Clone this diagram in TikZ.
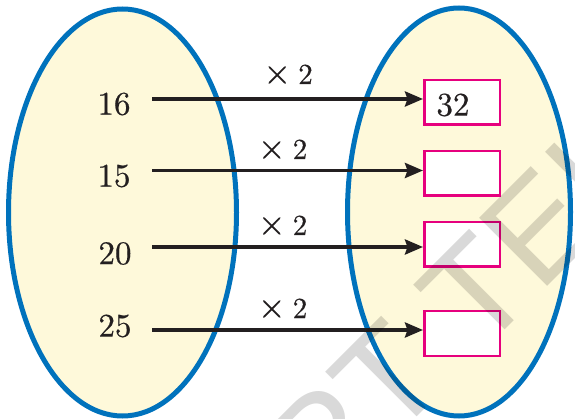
\documentclass[tikz,border=0pt]{standalone}
\usepackage{fontspec}
\newfontfamily\wmfont{Liberation Sans}
\newfontfamily\numfont{lmroman10-regular.otf}[FakeBold=0.5]
\usetikzlibrary{shapes.geometric,arrows.meta}
\definecolor{setblue}{RGB}{0,114,188}
\definecolor{setfill}{RGB}{254,249,218}
\definecolor{boxpink}{RGB}{230,0,126}
\definecolor{inkblack}{RGB}{35,31,32}
\newcommand{\timestwo}{{\fontsize{36}{36}\selectfont ×}\hspace{7pt}{\fontsize{29}{30}\selectfont 2}}
\begin{document}
\begin{tikzpicture}[x=1pt,y=-1pt,
 setell/.style={ellipse, draw=setblue, fill=setfill, line width=5pt, inner sep=0pt},
 numlabel/.style={font=\numfont\fontsize{33}{36}\selectfont, text=inkblack, inner sep=0pt},
 oplabel/.style={font=\numfont, text=inkblack, inner sep=0pt, anchor=base},
 ansbox/.style={draw=boxpink, fill=white, line width=2.5pt, minimum width=75.5pt, minimum height=44.5pt, inner sep=0pt},
 maparrow/.style={draw=inkblack, line width=3.5pt, -{Stealth[length=18pt,width=15pt,inset=2.5pt]}},
 watermark/.style={font=\wmfont\fontsize{140}{150}\selectfont, text=black, text opacity=0.15, inner sep=0pt, outer sep=0pt, rotate=45}
]
\useasboundingbox (0,0) rectangle (575,419);
\clip (0,0) rectangle (575,419);
% sets
\node[setell, minimum width=228pt, minimum height=407pt] (L) at (122.5,212.5) {};
\node[setell, minimum width=223pt, minimum height=408pt] (R) at (459,212) {};
% domain numbers
\node[numlabel] (n1) at (114,104) {16};
\node[numlabel] (n2) at (114,176) {15};
\node[numlabel] (n3) at (115,253.5) {20};
\node[numlabel] (n4) at (115,326) {25};
% answer boxes
\node[ansbox] (b1) at (462,102.5) {};
\node[ansbox] (b2) at (462,173.5) {};
\node[ansbox] (b3) at (462,244.5) {};
\node[ansbox] (b4) at (462,333.5) {};
\node[numlabel] (t32) at (453,105) {32};
% arrows
\coordinate (a1) at (152,99);
\coordinate (a2) at (152,170.5);
\coordinate (a3) at (152,247);
\coordinate (a4) at (152,330);
\draw[maparrow] (a1) -- (a1 -| b1.west);
\draw[maparrow] (a2) -- (a2 -| b2.west);
\draw[maparrow] (a3) -- (a3 -| b3.west);
\draw[maparrow] (a4) -- (a4 -| b4.west);
% operation labels
\node[oplabel] (o1) at (288,84) {\timestwo};
\node[oplabel] (o2) at (282.5,159) {\timestwo};
\node[oplabel] (o3) at (282.5,235) {\timestwo};
\node[oplabel] (o4) at (282.5,318) {\timestwo};
% watermark
\node[watermark, anchor=base east] (wm1) at (452,382) {SCERT};
\node[watermark, anchor=base west] (wm2) at (479,355) {TELANGANA};
\end{tikzpicture}
\end{document}
